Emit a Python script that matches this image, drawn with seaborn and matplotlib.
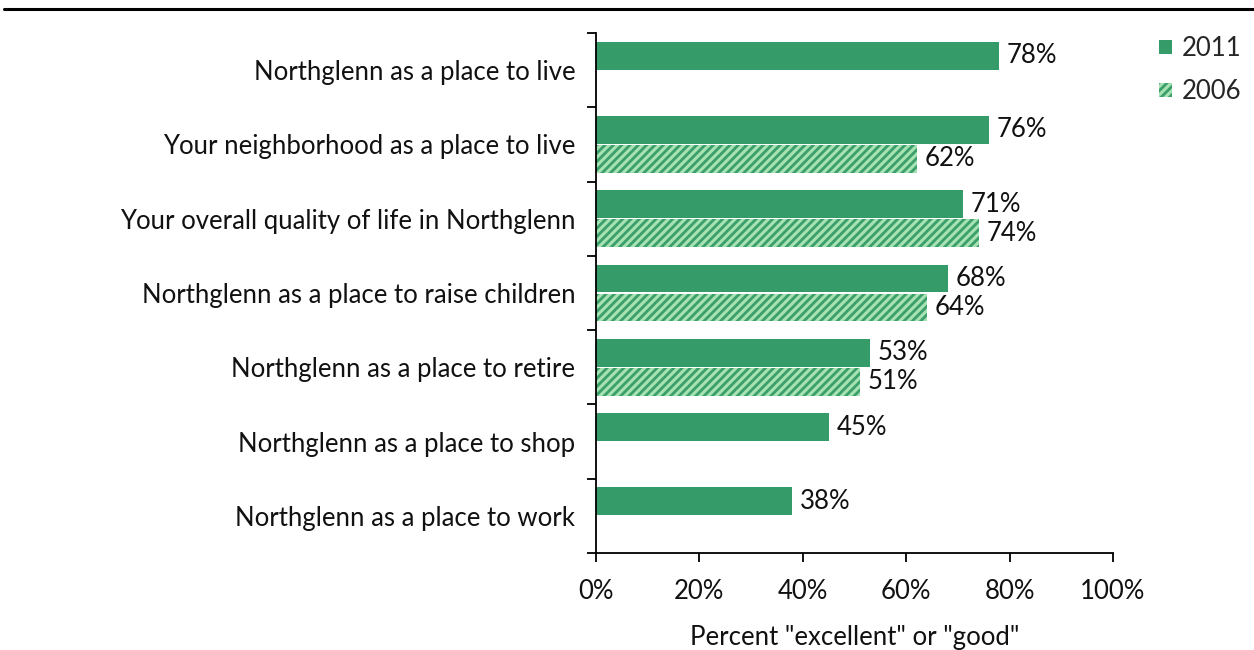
import matplotlib
matplotlib.use("Agg")
import matplotlib.pyplot as plt
import seaborn as sns
import pandas as pd
import numpy as np
from matplotlib.patches import Patch
from matplotlib.lines import Line2D
from matplotlib.ticker import PercentFormatter

categories = [
    "Northglenn as a place to live",
    "Your neighborhood as a place to live",
    "Your overall quality of life in Northglenn",
    "Northglenn as a place to raise children",
    "Northglenn as a place to retire",
    "Northglenn as a place to shop",
    "Northglenn as a place to work",
]
values_2011 = [78, 76, 71, 68, 53, 45, 38]
values_2006 = [np.nan, 62, 74, 64, 51, np.nan, np.nan]
years = ["2011", "2006"]
xticks = [0, 20, 40, 60, 80, 100]

sns.set_theme(style="white")
plt.rcParams['font.family'] = ['Lato', 'DejaVu Sans']
plt.rcParams['hatch.linewidth'] = 2.0

FS = 18.5
dark = "#349b69"
light = "#a7e2b2"
stripe = "#3a9f6b"

df = pd.DataFrame({
    "category": categories * 2,
    "value": values_2011 + values_2006,
    "year": [years[0]] * len(categories) + [years[1]] * len(categories),
})

fig = plt.figure(figsize=(12.54, 6.5), dpi=100)
ax = fig.add_axes([596/1254, 1-553/650, (1113-596)/1254, (553-33)/650])

sns.barplot(data=df, y="category", x="value", hue="year", hue_order=years,
            order=categories, orient="h", width=0.78, gap=0.035,
            palette=[dark, light], ax=ax, legend=False, saturation=1)

# style 2006 bars with hatch
for bar in ax.containers[1]:
    bar.set_hatch("////")
    bar.set_edgecolor(stripe)
    bar.set_linewidth(0)
for bar in ax.containers[0]:
    bar.set_linewidth(0)

# value labels
for cont in ax.containers:
    for bar in cont:
        w = bar.get_width()
        if np.isnan(w):
            continue
        ax.text(w + 1.5, bar.get_y() + bar.get_height()/2,
                f"{w:.0f}%", va="center", ha="left", fontsize=FS, color="#111111")

ax.set_xlim(0, 100)
ax.set_ylim(len(categories) - 0.5, -0.5)
ax.set_xticks(xticks)
ax.xaxis.set_major_formatter(PercentFormatter(decimals=0))
ax.set_yticks(range(len(categories)))
ax.set_yticklabels(categories)
ax.set_yticks(np.arange(-0.5, len(categories), 1), minor=True)
ax.tick_params(axis="y", which="major", length=0, pad=15, labelsize=FS, labelcolor="#111111")
ax.tick_params(axis="y", which="minor", length=6.5, width=1.3, color="black", left=True)
ax.tick_params(axis="x", which="major", length=6.5, width=1.3, color="black", bottom=True,
               pad=12, labelsize=FS, labelcolor="#111111")
ax.set_ylabel("")
ax.set_xlabel('Percent "excellent" or "good"', fontsize=FS, labelpad=15, color="#111111")

for s in ["top", "right"]:
    ax.spines[s].set_visible(False)
for s in ["left", "bottom"]:
    ax.spines[s].set_color("black")
    ax.spines[s].set_linewidth(1.3)

handles = [Patch(facecolor=dark, edgecolor="none", label=years[0]),
           Patch(facecolor=light, edgecolor=stripe, hatch="////", linewidth=0, label=years[1])]
fig.legend(handles=handles, loc="upper left", bbox_to_anchor=(1159/1254, 1-36/650),
           frameon=False, fontsize=FS, handlelength=0.5, handleheight=0.5,
           handletextpad=0.4, labelspacing=0.7, borderaxespad=0, borderpad=0)

fig.add_artist(Line2D([4/1254, 1.0], [1-9/650, 1-9/650], color="black", linewidth=2.2,
                      transform=fig.transFigure))

fig.savefig("out.png", dpi=100)
